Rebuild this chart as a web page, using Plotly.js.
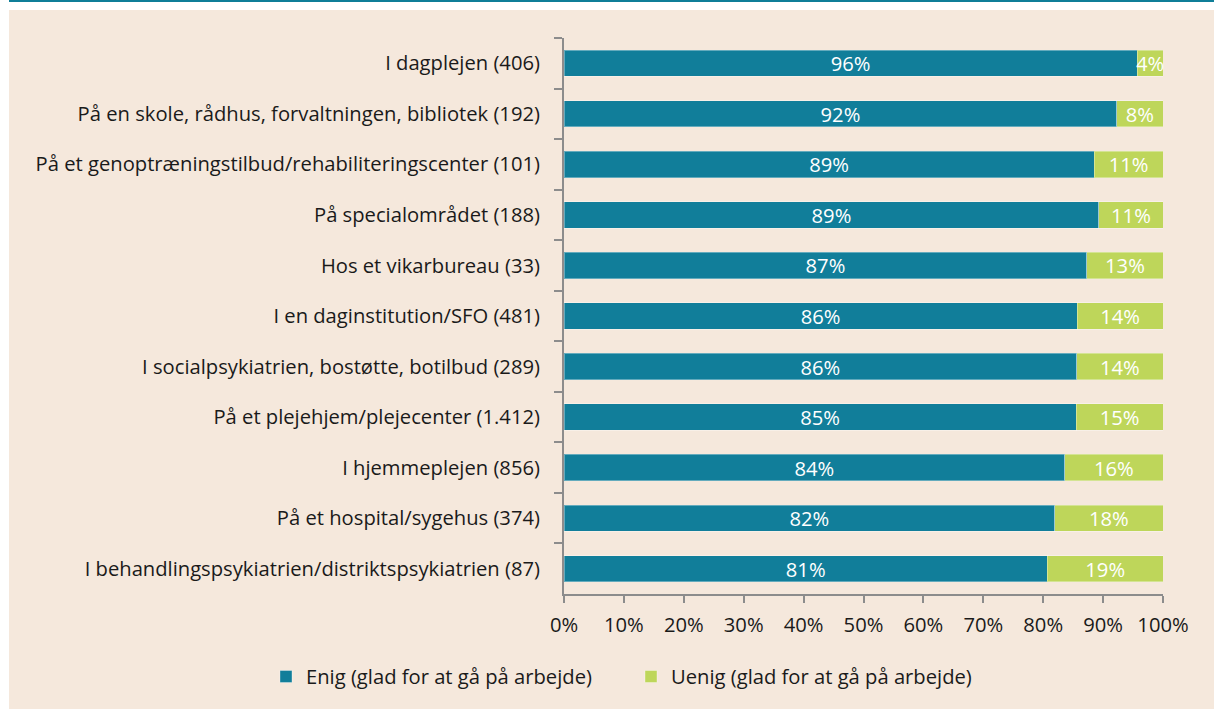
<!DOCTYPE html>
<html>
<head>
<meta charset="utf-8">
<script src="https://cdn.plot.ly/plotly-3.0.1.min.js"></script>
<style>
  html, body { margin: 0; padding: 0; background: #ffffff; width: 1214px; height: 709px; overflow: hidden; }
  #topline { position: absolute; left: 9px; top: 0; width: 1205px; height: 2px; background: #0f7e98; }
  #chart { position: absolute; left: 9px; top: 10px; width: 1205px; height: 699px; }
</style>
</head>
<body>
<div id="topline"></div>
<div id="chart"></div>
<script>
const categories = [
  "I dagplejen (406)",
  "På en skole, rådhus, forvaltningen, bibliotek (192)",
  "På et genoptræningstilbud/rehabiliteringscenter (101)",
  "På specialområdet (188)",
  "Hos et vikarbureau (33)",
  "I en daginstitution/SFO (481)",
  "I socialpsykiatrien, bostøtte, botilbud (289)",
  "På et plejehjem/plejecenter (1.412)",
  "I hjemmeplejen (856)",
  "På et hospital/sygehus (374)",
  "I behandlingspsykiatrien/distriktspsykiatrien (87)"
];
const enigValues  = [95.7, 92.3, 88.5, 89.3, 87.3, 85.7, 85.6, 85.5, 83.6, 81.9, 80.7];
const uenigValues = [4.3, 7.7, 11.5, 10.7, 12.7, 14.3, 14.4, 14.5, 16.4, 18.1, 19.3];
const enigLabels  = ["96%", "92%", "89%", "89%", "87%", "86%", "86%", "85%", "84%", "82%", "81%"];
const uenigLabels = ["4%", "8%", "11%", "11%", "13%", "14%", "14%", "15%", "16%", "18%", "19%"];
const seriesNames = ["Enig (glad for at gå på arbejde)", "Uenig (glad for at gå på arbejde)"];
const xTickVals = [0, 10, 20, 30, 40, 50, 60, 70, 80, 90, 100];
const xTickText = ["0%", "10%", "20%", "30%", "40%", "50%", "60%", "70%", "80%", "90%", "100%"];

const FONT = "'Open Sans', 'Noto Sans', sans-serif";
const FS = 20.2;
const common = {
  type: 'bar', orientation: 'h', y: categories,
  textposition: 'inside', insidetextanchor: 'middle', constraintext: 'none', textangle: 0,
  cliponaxis: false, hoverinfo: 'skip',
  textfont: { family: FONT, size: FS, color: '#ffffff' }
};
const traces = [
  Object.assign({}, common, {
    name: seriesNames[0], x: enigValues, text: enigLabels,
    marker: { color: '#117e9a', line: { color: 'rgba(255,255,255,0.35)', width: 1 } }
  }),
  Object.assign({}, common, {
    name: seriesNames[1], x: uenigValues, text: uenigLabels,
    marker: { color: '#bed65a', line: { color: 'rgba(255,255,255,0.35)', width: 1 } }
  })
];

const layout = {
  width: 1205, height: 699,
  margin: { l: 555, r: 51, t: 28, b: 113, pad: 0 },
  paper_bgcolor: '#f5e8dc', plot_bgcolor: '#f5e8dc',
  barmode: 'stack', bargap: 0.48,
  font: { family: FONT, size: FS, color: '#1a1a1a' },
  showlegend: true,
  legend: {
    orientation: 'h', xref: 'paper', yref: 'paper',
    x: -0.4975, xanchor: 'left', y: -0.149, yanchor: 'middle',
    entrywidth: 320, entrywidthmode: 'pixels',
    font: { family: FONT, size: FS, color: '#1a1a1a' },
    bgcolor: 'rgba(0,0,0,0)', itemclick: false, traceorder: 'normal'
  },
  xaxis: {
    range: [0, 100], tickmode: 'array', tickvals: xTickVals, ticktext: xTickText,
    showgrid: false, zeroline: false,
    showline: true, linecolor: '#8c8c8c', linewidth: 2,
    ticks: 'outside', ticklen: 7, tickwidth: 2, tickcolor: '#8c8c8c',
    ticklabelstandoff: 5, automargin: false, fixedrange: true,
    tickfont: { family: FONT, size: FS, color: '#1a1a1a' }
  },
  yaxis: {
    type: 'category', autorange: 'reversed',
    showgrid: false, zeroline: false,
    showline: true, linecolor: '#8c8c8c', linewidth: 2,
    ticks: 'outside', tickson: 'boundaries', ticklen: 8, tickwidth: 2, tickcolor: '#8c8c8c',
    ticklabelstandoff: 18, automargin: false, fixedrange: true,
    tickfont: { family: FONT, size: FS, color: '#1a1a1a' }
  }
};

Plotly.newPlot('chart', traces, layout, { displayModeBar: false, staticPlot: true });
</script>
</body>
</html>
